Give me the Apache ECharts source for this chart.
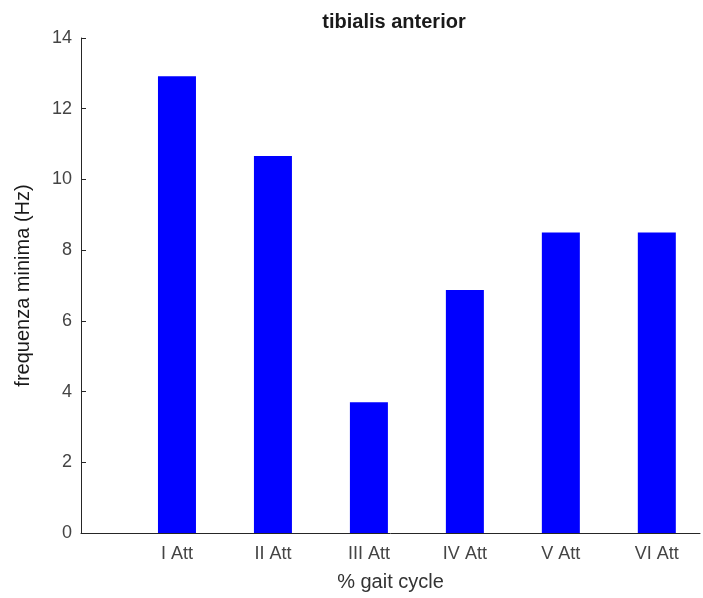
<!DOCTYPE html>
<html>
<head>
<meta charset="utf-8">
<script src="https://cdn.jsdelivr.net/npm/echarts@6/dist/echarts.min.js"></script>
<style>html,body{margin:0;padding:0;background:#fff;}#c{width:703px;height:598px;}</style>
</head>
<body>
<div id="c"></div>
<script>
const categories = ['I Att', 'II Att', 'III Att', 'IV Att', 'V Att', 'VI Att'];
const values = [12.92, 10.66, 3.70, 6.87, 8.50, 8.50];
const yTicks = [0, 2, 4, 6, 8, 10, 12, 14];
const titleText = 'tibialis anterior';
const xLabel = '% gait cycle';
const yLabel = 'frequenza minima (Hz)';

const chart = echarts.init(document.getElementById('c'), null, {renderer: 'canvas'});
const font = '"Liberation Sans", Arial, sans-serif';
chart.setOption({
  backgroundColor: '#fff',
  animation: false,
  title: {
    text: titleText, left: 389, top: 7, textAlign: 'center',
    textStyle: {fontFamily: font, fontSize: 20, fontWeight: 'bold', color: '#1a1a1a'}
  },
  grid: {left: 81, right: 0, top: 38, bottom: 65},
  xAxis: {
    type: 'value', min: 0, max: 6.45, interval: 1,
    name: xLabel, nameLocation: 'middle', nameGap: 39,
    nameTextStyle: {fontFamily: font, fontSize: 20, color: '#333'},
    axisLine: {show: true, lineStyle: {color: '#262626', width: 1}},
    axisTick: {show: false},
    splitLine: {show: false},
    axisLabel: {
      fontFamily: font, fontSize: 18, color: '#444', margin: 12,
      formatter: v => (Number.isInteger(v) && v >= 1 && v <= categories.length) ? categories[v - 1] : ''
    }
  },
  yAxis: {
    type: 'value', min: yTicks[0], max: yTicks[yTicks.length - 1], interval: 2,
    name: yLabel, nameLocation: 'middle', nameGap: 48,
    nameTextStyle: {fontFamily: font, fontSize: 20, color: '#1a1a1a', padding: [0, 0, 0, 0]},
    axisLine: {show: true, lineStyle: {color: '#262626', width: 1}},
    axisTick: {show: true, inside: true, length: 5, lineStyle: {color: '#262626'}},
    splitLine: {show: false},
    axisLabel: {fontFamily: font, fontSize: 18, color: '#444', margin: 9}
  },
  series: [{
    type: 'bar',
    barWidth: 38,
    data: values.map((v, i) => [i + 1, v]),
    itemStyle: {color: '#0000ff'}
  }]
});
</script>
</body>
</html>
